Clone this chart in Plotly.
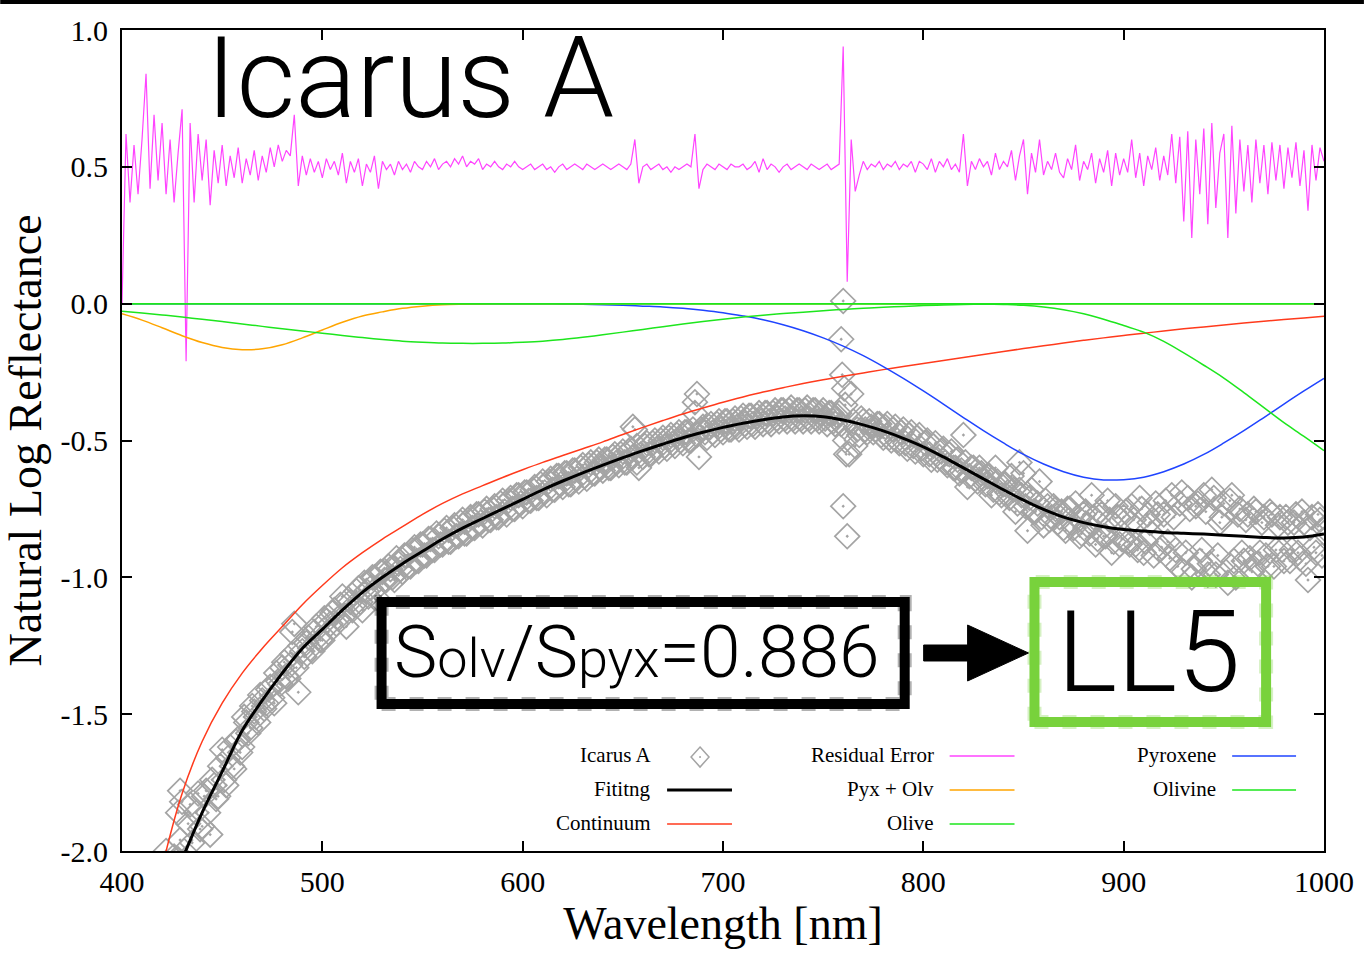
import plotly.graph_objects as go

# ---------------- data ----------------
wl10 = [400, 410, 420, 430, 440, 450, 460, 470, 480, 490,
        500, 510, 520, 530, 540, 550, 560, 570, 580, 590,
        600, 610, 620, 630, 640, 650, 660, 670, 680, 690,
        700, 710, 720, 730, 740, 750, 760, 770, 780, 790,
        800, 810, 820, 830, 840, 850, 860, 870, 880, 890,
        900, 910, 920, 930, 940, 950, 960, 970, 980, 990, 1000]

fitting = [-2.65, -2.40, -2.19, -2.03, -1.86, -1.71, -1.56, -1.45, -1.35, -1.26,
           -1.19, -1.12, -1.055, -1.00, -0.95, -0.905, -0.86, -0.82, -0.785, -0.75,
           -0.715, -0.68, -0.648, -0.618, -0.59, -0.563, -0.537, -0.513, -0.49, -0.47,
           -0.452, -0.437, -0.424, -0.414, -0.41, -0.413, -0.425, -0.443, -0.465, -0.492,
           -0.523, -0.56, -0.60, -0.64, -0.68, -0.718, -0.752, -0.78, -0.80, -0.815,
           -0.825, -0.831, -0.836, -0.839, -0.842, -0.846, -0.85, -0.854, -0.856, -0.853, -0.842]

continuum = [-2.80, -2.40, -2.06, -1.79, -1.60, -1.46, -1.35, -1.26, -1.18, -1.10,
             -1.03, -0.965, -0.91, -0.86, -0.815, -0.77, -0.73, -0.695, -0.665, -0.635,
             -0.607, -0.58, -0.555, -0.53, -0.505, -0.478, -0.452, -0.427, -0.403, -0.381,
             -0.36, -0.341, -0.323, -0.307, -0.292, -0.278, -0.265, -0.253, -0.241, -0.23,
             -0.219, -0.208, -0.197, -0.186, -0.175, -0.164, -0.154, -0.144, -0.134, -0.125,
             -0.116, -0.108, -0.10, -0.092, -0.085, -0.078, -0.071, -0.064, -0.058, -0.052, -0.046]

pyroxene = [0.0, 0.0, 0.0, 0.0, 0.0, 0.0, 0.0, 0.0, 0.0, 0.0,
            0.0, 0.0, 0.0, 0.0, 0.0, 0.0, 0.0, 0.0, 0.0, 0.0,
            0.0, 0.0, -0.001, -0.002, -0.004, -0.006, -0.009, -0.012, -0.017, -0.024,
            -0.033, -0.045, -0.059, -0.077, -0.099, -0.125, -0.155, -0.19, -0.23, -0.273,
            -0.319, -0.367, -0.416, -0.464, -0.509, -0.551, -0.586, -0.614, -0.634, -0.644,
            -0.643, -0.634, -0.614, -0.586, -0.551, -0.509, -0.464, -0.416, -0.367, -0.319, -0.273]

pyx_olv = [-0.037, -0.06, -0.088, -0.117, -0.142, -0.16, -0.168, -0.165, -0.15, -0.125,
           -0.096, -0.068, -0.045, -0.03, -0.017, -0.009, -0.004, -0.002, -0.001, 0.0,
           0.0, 0.0, 0.0, 0.0, 0.0, 0.0, 0.0, 0.0, 0.0, 0.0,
           0.0, 0.0, 0.0, 0.0, 0.0, 0.0, 0.0, 0.0, 0.0, 0.0,
           0.0, 0.0, 0.0, 0.0, 0.0, 0.0, 0.0, 0.0, 0.0, 0.0,
           0.0, 0.0, 0.0, 0.0, 0.0, 0.0, 0.0, 0.0, 0.0, 0.0, 0.0]

olive = [-0.028, -0.034, -0.041, -0.049, -0.057, -0.065, -0.074, -0.083, -0.092, -0.10,
         -0.108, -0.116, -0.124, -0.131, -0.137, -0.141, -0.144, -0.145, -0.145, -0.144,
         -0.141, -0.137, -0.131, -0.123, -0.114, -0.104, -0.094, -0.084, -0.074, -0.065,
         -0.057, -0.049, -0.042, -0.036, -0.031, -0.026, -0.021, -0.017, -0.013, -0.01,
         -0.007, -0.005, -0.003, -0.002, -0.001, 0.0, 0.0, 0.0, 0.0, 0.0,
         0.0, 0.0, 0.0, 0.0, 0.0, 0.0, 0.0, 0.0, 0.0, 0.0, 0.0]

olivine = [0.0, 0.0, 0.0, 0.0, 0.0, 0.0, 0.0, 0.0, 0.0, 0.0,
           0.0, 0.0, 0.0, 0.0, 0.0, 0.0, 0.0, 0.0, 0.0, 0.0,
           0.0, 0.0, 0.0, 0.0, 0.0, 0.0, 0.0, 0.0, 0.0, 0.0,
           0.0, 0.0, 0.0, 0.0, 0.0, 0.0, 0.0, 0.0, 0.0, 0.0,
           0.0, 0.0, 0.0, -0.001, -0.003, -0.006, -0.012, -0.022, -0.037, -0.057,
           -0.08, -0.104, -0.138, -0.18, -0.225, -0.272, -0.325, -0.38, -0.435, -0.485, -0.537]

baseline_wl = [400, 1000]
baseline = [0.0, 0.0]

wl_even = list(range(400, 1001, 2))
wl_odd = list(range(401, 1000, 2))

residual = [
    0.00, 0.62, 0.37, 0.58, 0.40, 0.60, 0.84, 0.42, 0.69, 0.45,
    0.66, 0.40, 0.60, 0.37, 0.55, 0.71, -0.21, 0.66, 0.37, 0.62,
    0.45, 0.60, 0.36, 0.56, 0.44, 0.58, 0.43, 0.54, 0.46, 0.57,
    0.44, 0.53, 0.47, 0.56, 0.45, 0.54, 0.48, 0.57, 0.50, 0.58,
    0.52, 0.56, 0.54, 0.69, 0.43, 0.54, 0.47, 0.53, 0.48, 0.52,
    0.46, 0.53, 0.49, 0.52, 0.47, 0.55, 0.44, 0.52, 0.48, 0.53,
    0.43, 0.51, 0.48, 0.54, 0.42, 0.52, 0.49, 0.51, 0.47, 0.52,
    0.49, 0.51, 0.48, 0.52, 0.50, 0.49, 0.52, 0.50, 0.53, 0.49,
    0.51, 0.52, 0.50, 0.53, 0.51, 0.54, 0.50, 0.52, 0.51, 0.53,
    0.49, 0.51, 0.50, 0.52, 0.50, 0.49, 0.51, 0.50, 0.52, 0.50,
    0.49, 0.50, 0.51, 0.49, 0.50, 0.51, 0.49, 0.50, 0.48, 0.50,
    0.51, 0.49, 0.50, 0.51, 0.50, 0.49, 0.51, 0.50, 0.49, 0.50,
    0.51, 0.50, 0.49, 0.50, 0.51, 0.50, 0.49, 0.51, 0.60, 0.44,
    0.50, 0.51, 0.49, 0.50, 0.51, 0.49, 0.50, 0.48, 0.50, 0.49,
    0.50, 0.51, 0.50, 0.62, 0.42, 0.49, 0.51, 0.50, 0.49, 0.51,
    0.50, 0.49, 0.51, 0.50, 0.50, 0.51, 0.49, 0.50, 0.52, 0.48,
    0.53, 0.49, 0.51, 0.50, 0.48, 0.50, 0.51, 0.49, 0.50, 0.51,
    0.50, 0.49, 0.51, 0.50, 0.49, 0.50, 0.51, 0.49, 0.50, 0.51,
    0.94, 0.08, 0.60, 0.41, 0.47, 0.52, 0.49, 0.51, 0.50, 0.52,
    0.49, 0.51, 0.50, 0.52, 0.49, 0.51, 0.50, 0.52, 0.48, 0.52,
    0.51, 0.49, 0.53, 0.48, 0.52, 0.50, 0.53, 0.49, 0.51, 0.48,
    0.62, 0.43, 0.52, 0.49, 0.53, 0.50, 0.52, 0.47, 0.55, 0.49,
    0.52, 0.50, 0.56, 0.45, 0.54, 0.60, 0.40, 0.55, 0.48, 0.60,
    0.47, 0.52, 0.49, 0.55, 0.48, 0.46, 0.53, 0.49, 0.58, 0.45,
    0.52, 0.49, 0.55, 0.44, 0.53, 0.48, 0.56, 0.43, 0.55, 0.47,
    0.53, 0.48, 0.60, 0.46, 0.55, 0.43, 0.54, 0.49, 0.57, 0.45,
    0.54, 0.47, 0.62, 0.44, 0.61, 0.30, 0.63, 0.24, 0.60, 0.40,
    0.64, 0.29, 0.66, 0.35, 0.55, 0.62, 0.24, 0.65, 0.33, 0.60,
    0.41, 0.58, 0.37, 0.60, 0.44, 0.58, 0.40, 0.59, 0.45, 0.58,
    0.42, 0.57, 0.46, 0.59, 0.43, 0.56, 0.34, 0.58, 0.45, 0.57,
    0.52]

# Icarus A measurements at even wavelengths (400, 402, ..., 1000)
icarus_even = [
    -2.60, -2.55, -2.52, -2.45, -2.44, -2.36, -2.33, -2.28, -2.27, -2.20,
    -2.15, -2.00, -2.10, -2.02, -2.03, -1.82, -2.70, -1.83, -2.06, -1.79,
    -1.91, -1.78, -1.94, -1.76, -1.80, -1.63, -1.76, -1.62, -1.70, -1.59,
    -1.62, -1.53, -1.55, -1.49, -1.53, -1.45, -1.46, -1.40, -1.46, -1.38,
    -1.33, -1.36, -1.32, -1.17, -1.42, -1.27, -1.24, -1.26, -1.20, -1.22,
    -1.23, -1.16, -1.17, -1.12, -1.15, -1.07, -1.18, -1.09, -1.10, -1.04,
    -1.12, -1.05, -1.04, -1.00, -1.08, -0.98, -1.01, -0.97, -1.01, -0.95,
    -0.98, -0.92, -0.96, -0.89, -0.94, -0.88, -0.92, -0.86, -0.90, -0.85,
    -0.88, -0.82, -0.87, -0.81, -0.85, -0.79, -0.84, -0.78, -0.82, -0.77,
    -0.81, -0.75, -0.79, -0.74, -0.78, -0.72, -0.77, -0.71, -0.75, -0.70,
    -0.74, -0.69, -0.72, -0.67, -0.71, -0.65, -0.70, -0.64, -0.68, -0.63,
    -0.67, -0.62, -0.66, -0.61, -0.65, -0.59, -0.64, -0.58, -0.62, -0.57,
    -0.61, -0.57, -0.60, -0.55, -0.59, -0.54, -0.58, -0.53, -0.46, -0.60,
    -0.56, -0.51, -0.55, -0.50, -0.54, -0.49, -0.53, -0.48, -0.52, -0.47,
    -0.51, -0.47, -0.50, -0.36, -0.56, -0.45, -0.49, -0.44, -0.48, -0.43,
    -0.47, -0.43, -0.46, -0.42, -0.46, -0.41, -0.45, -0.41, -0.45, -0.40,
    -0.44, -0.40, -0.44, -0.39, -0.43, -0.39, -0.43, -0.38, -0.43, -0.39,
    -0.43, -0.38, -0.43, -0.39, -0.43, -0.39, -0.44, -0.40, -0.44, -0.40,
    0.01, -0.85, -0.33, -0.52, -0.48, -0.43, -0.47, -0.45, -0.46, -0.44,
    -0.49, -0.44, -0.50, -0.45, -0.51, -0.46, -0.53, -0.47, -0.54, -0.48,
    -0.55, -0.50, -0.57, -0.51, -0.56, -0.53, -0.59, -0.54, -0.60, -0.62,
    -0.48, -0.67, -0.60, -0.64, -0.60, -0.64, -0.63, -0.70, -0.60, -0.69,
    -0.66, -0.69, -0.63, -0.76, -0.68, -0.62, -0.83, -0.68, -0.76, -0.65,
    -0.81, -0.74, -0.78, -0.75, -0.78, -0.82, -0.75, -0.80, -0.73, -0.85,
    -0.77, -0.81, -0.70, -0.88, -0.76, -0.85, -0.72, -0.91, -0.74, -0.88,
    -0.78, -0.87, -0.74, -0.88, -0.71, -0.91, -0.77, -0.84, -0.73, -0.90,
    -0.77, -0.87, -0.70, -0.90, -0.73, -0.98, -0.71, -1.00, -0.74, -0.94,
    -0.70, -0.99, -0.68, -0.99, -0.80, -0.73, -1.02, -0.70, -1.00, -0.75,
    -0.94, -0.77, -0.98, -0.76, -0.91, -0.78, -0.96, -0.77, -0.90, -0.78,
    -0.94, -0.80, -0.90, -0.77, -0.93, -0.80, -1.01, -0.78, -0.91, -0.79,
    -0.82]

# Icarus A measurements at odd wavelengths (401, 403, ..., 999)
icarus_odd = [
    -2.62, -2.50, -2.49, -2.40, -2.41, -2.30, -2.31, -2.22, -2.24, -2.16,
    -2.12, -2.15, -2.05, -2.08, -1.96, -2.00, -1.90, -1.97, -1.86, -1.92,
    -1.80, -1.86, -1.74, -1.81, -1.69, -1.74, -1.66, -1.69, -1.60, -1.64,
    -1.51, -1.57, -1.47, -1.51, -1.43, -1.48, -1.41, -1.44, -1.35, -1.39,
    -1.31, -1.37, -1.28, -1.33, -1.25, -1.29, -1.22, -1.27, -1.18, -1.23,
    -1.15, -1.20, -1.13, -1.17, -1.10, -1.14, -1.08, -1.12, -1.05, -1.09,
    -1.02, -1.07, -1.00, -1.04, -0.98, -1.01, -0.96, -1.00, -0.93, -0.97,
    -0.92, -0.96, -0.90, -0.94, -0.88, -0.92, -0.86, -0.90, -0.84, -0.88,
    -0.83, -0.87, -0.82, -0.85, -0.80, -0.84, -0.79, -0.82, -0.77, -0.80,
    -0.76, -0.79, -0.75, -0.78, -0.73, -0.76, -0.72, -0.75, -0.70, -0.73,
    -0.69, -0.72, -0.68, -0.71, -0.66, -0.69, -0.65, -0.68, -0.63, -0.66,
    -0.62, -0.66, -0.61, -0.64, -0.60, -0.63, -0.59, -0.62, -0.58, -0.60,
    -0.57, -0.60, -0.56, -0.58, -0.55, -0.58, -0.54, -0.56, -0.52, -0.55,
    -0.52, -0.55, -0.51, -0.53, -0.50, -0.52, -0.49, -0.51, -0.48, -0.50,
    -0.47, -0.50, -0.46, -0.48, -0.46, -0.47, -0.45, -0.47, -0.44, -0.46,
    -0.43, -0.46, -0.43, -0.45, -0.42, -0.44, -0.41, -0.44, -0.41, -0.43,
    -0.40, -0.43, -0.40, -0.42, -0.39, -0.42, -0.39, -0.42, -0.39, -0.42,
    -0.39, -0.42, -0.39, -0.42, -0.40, -0.42, -0.40, -0.43, -0.41, -0.44,
    -0.50, -0.55, -0.43, -0.46, -0.42, -0.46, -0.43, -0.47, -0.44, -0.48,
    -0.45, -0.49, -0.46, -0.50, -0.47, -0.51, -0.48, -0.52, -0.49, -0.53,
    -0.51, -0.55, -0.52, -0.57, -0.54, -0.58, -0.55, -0.60, -0.57, -0.61,
    -0.58, -0.63, -0.60, -0.65, -0.62, -0.66, -0.63, -0.68, -0.65, -0.70,
    -0.66, -0.71, -0.68, -0.73, -0.70, -0.74, -0.71, -0.76, -0.73, -0.78,
    -0.72, -0.79, -0.74, -0.80, -0.76, -0.83, -0.75, -0.82, -0.78, -0.84,
    -0.76, -0.84, -0.78, -0.86, -0.77, -0.85, -0.79, -0.87, -0.78, -0.86,
    -0.76, -0.88, -0.79, -0.90, -0.75, -0.87, -0.80, -0.92, -0.77, -0.89,
    -0.72, -0.93, -0.78, -0.96, -0.69, -0.91, -0.75, -0.97, -0.73, -0.90,
    -0.76, -0.95, -0.71, -0.92, -0.78, -0.98, -0.72, -0.94, -0.77, -0.91,
    -0.79, -0.93, -0.75, -0.95, -0.80, -0.92, -0.76, -0.96, -0.81, -0.90,
    -0.78, -0.94, -0.80, -0.91, -0.76, -0.95, -0.82, -0.89, -0.77, -0.92]

extra_wl = [759.0, 759.5, 760.5, 761.0, 761.5, 760.0, 760.5, 687.0, 686.0, 655.0, 657.0, 485.0, 429.0, 428.0, 848.0]
extra_val = [-0.13, -0.26, -0.31, -0.37, -0.55, -0.74, -0.45, -0.33, -0.40, -0.45, -0.58, -1.20, -1.78, -1.86, -0.58]

x_ticks = [400, 500, 600, 700, 800, 900, 1000]
y_ticks = [-2.0, -1.5, -1.0, -0.5, 0.0, 0.5, 1.0]
y_tick_text = ["-2.0", "-1.5", "-1.0", "-0.5", "0.0", "0.5", "1.0"]

# ---------------- styling ----------------
C_DATA = "#a4a4a4"
C_FIT = "#000000"
C_CONT = "#ff3a1c"
C_RESID = "#ff44ff"
C_PXO = "#ffa500"
C_GREEN = "#1de61d"
C_BLUE = "#1f44ff"
C_LL5 = "#78d23c"

SERIF = "Liberation Serif, Times New Roman, serif"
SANS = "Roboto, Liberation Sans, Arial, sans-serif"

W, H = 1366, 958
L, R, T, B = 122, 1326, 30, 851


def px(x):
    return (x - L) / (R - L)


def py(y):
    return (B - y) / (B - T)


fig = go.Figure()

marker_style = dict(symbol="diamond-open-dot", size=19, color=C_DATA,
                    line=dict(width=1.7, color=C_DATA))
fig.add_trace(go.Scatter(x=wl_even, y=icarus_even, mode="markers", name="Icarus A", marker=marker_style))
fig.add_trace(go.Scatter(x=wl_odd, y=icarus_odd, mode="markers", showlegend=False, marker=marker_style))
fig.add_trace(go.Scatter(x=extra_wl, y=extra_val, mode="markers", showlegend=False, marker=marker_style))
fig.add_trace(go.Scatter(x=wl_even, y=residual, mode="lines", name="Residual Error",
                         line=dict(color=C_RESID, width=1.2)))
fig.add_trace(go.Scatter(x=wl10, y=continuum, mode="lines", name="Continuum",
                         line=dict(color=C_CONT, width=1.5, shape="spline")))
fig.add_trace(go.Scatter(x=wl10, y=pyroxene, mode="lines", name="Pyroxene",
                         line=dict(color=C_BLUE, width=1.5, shape="spline")))
fig.add_trace(go.Scatter(x=wl10, y=pyx_olv, mode="lines", name="Pyx + Olv",
                         line=dict(color=C_PXO, width=1.5, shape="spline")))
fig.add_trace(go.Scatter(x=wl10, y=olive, mode="lines", name="Olive",
                         line=dict(color=C_GREEN, width=1.5, shape="spline")))
fig.add_trace(go.Scatter(x=wl10, y=olivine, mode="lines", name="Olivine",
                         line=dict(color=C_GREEN, width=1.5, shape="spline")))
fig.add_trace(go.Scatter(x=baseline_wl, y=baseline, mode="lines", showlegend=False,
                         line=dict(color=C_GREEN, width=1.5)))
fig.add_trace(go.Scatter(x=wl10, y=fitting, mode="lines", name="Fititng",
                         line=dict(color=C_FIT, width=3, shape="spline")))

shapes = []
annotations = []

# black bar across the very top
shapes.append(dict(type="rect", xref="paper", yref="paper", x0=px(0), x1=px(W),
                   y0=py(4), y1=py(0), fillcolor="black", line=dict(width=0), layer="above"))


def rough_box(x0, y0, x1, y1, color):
    shapes.append(dict(type="rect", xref="paper", yref="paper", x0=px(x0), x1=px(x1),
                       y0=py(y1), y1=py(y0), line=dict(color=color, width=10),
                       fillcolor="rgba(0,0,0,0)", layer="above"))
    shapes.append(dict(type="rect", xref="paper", yref="paper", x0=px(x0), x1=px(x1),
                       y0=py(y1), y1=py(y0), line=dict(color=color, width=14, dash="dot"),
                       fillcolor="rgba(0,0,0,0)", opacity=0.3, layer="above"))


rough_box(382, 602, 906, 704, "black")
rough_box(1036, 582, 1268, 722, C_LL5)

# arrow
arrow_pts = [(925, 645), (969, 645), (969, 625), (1030, 653), (969, 681), (969, 661), (925, 661)]
path = "M " + " L ".join(f"{px(a):.5f},{py(b):.5f}" for a, b in arrow_pts) + " Z"
shapes.append(dict(type="path", xref="paper", yref="paper", path=path,
                   fillcolor="black", line=dict(color="black", width=1), layer="above"))

# main annotations
annotations.append(dict(xref="paper", yref="paper", x=px(204), y=py(78), xanchor="left",
                        yanchor="middle", showarrow=False, text="Icarus A",
                        font=dict(family=SANS, size=114, color="black", weight=300)))
annotations.append(dict(xref="paper", yref="paper", x=px(637), y=py(652), xanchor="center",
                        yanchor="middle", showarrow=False,
                        text="S<span style='font-size:54px'>olv</span>/S<span style='font-size:54px'>pyx</span>=0.886",
                        font=dict(family=SANS, size=73, color="black", weight=300)))
annotations.append(dict(xref="paper", yref="paper", x=px(1150), y=py(652), xanchor="center",
                        yanchor="middle", showarrow=False, text="LL5",
                        font=dict(family=SANS, size=114, color="black", weight=300)))

# custom legend (text then sample on the right)
legend_rows = [
    ("Icarus A", 654, 755, "diamond", C_DATA, 668, 733, 1.5),
    ("Fititng", 654, 789, "line", C_FIT, 668, 733, 3),
    ("Continuum", 654, 823, "line", C_CONT, 668, 733, 1.5),
    ("Residual Error", 937, 755, "line", C_RESID, 951, 1016, 1.5),
    ("Pyx + Olv", 937, 789, "line", C_PXO, 951, 1016, 1.5),
    ("Olive", 937, 823, "line", C_GREEN, 951, 1016, 1.5),
    ("Pyroxene", 1220, 755, "line", C_BLUE, 1234, 1298, 1.5),
    ("Olivine", 1220, 789, "line", C_GREEN, 1234, 1298, 1.5),
]
for text, tx, ty, kind, col, lx0, lx1, lw in legend_rows:
    annotations.append(dict(xref="paper", yref="paper", x=px(tx), y=py(ty), xanchor="right",
                            yanchor="middle", showarrow=False, text=text,
                            font=dict(family=SERIF, size=21, color="black")))
    if kind == "line":
        shapes.append(dict(type="line", xref="paper", yref="paper", x0=px(lx0), x1=px(lx1),
                           y0=py(ty + 1), y1=py(ty + 1), line=dict(color=col, width=lw)))
    else:
        cx, cy = 701, ty + 2
        dpath = (f"M {px(cx):.5f},{py(cy - 10):.5f} L {px(cx + 9):.5f},{py(cy):.5f} "
                 f"L {px(cx):.5f},{py(cy + 10):.5f} L {px(cx - 9):.5f},{py(cy):.5f} Z")
        shapes.append(dict(type="path", xref="paper", yref="paper", path=dpath,
                           line=dict(color=col, width=1.5)))
        shapes.append(dict(type="circle", xref="paper", yref="paper", x0=px(cx - 1), x1=px(cx + 1),
                           y0=py(cy + 1), y1=py(cy - 1), fillcolor=col, line=dict(width=0)))

axis_common = dict(showgrid=False, zeroline=False, showline=True, linecolor="black",
                   linewidth=2, mirror="allticks", ticks="inside", ticklen=10,
                   tickwidth=1.5, tickcolor="black",
                   tickfont=dict(family=SERIF, size=30, color="black"))

fig.update_layout(
    width=W, height=H,
    margin=dict(l=L, r=W - R, t=T, b=H - B),
    paper_bgcolor="white", plot_bgcolor="white",
    showlegend=False,
    shapes=shapes, annotations=annotations,
    xaxis=dict(range=[400, 1000], tickvals=x_ticks, ticktext=[str(v) for v in x_ticks],
               title=dict(text="Wavelength [nm]", font=dict(family=SERIF, size=46, color="black"),
                          standoff=8),
               ticklabelstandoff=3, **axis_common),
    yaxis=dict(range=[-2.0, 1.0], tickvals=y_ticks, ticktext=y_tick_text,
               title=dict(text="Natural Log Reflectance", font=dict(family=SERIF, size=46, color="black"),
                          standoff=15),
               ticklabelstandoff=6, **axis_common),
)

fig.write_html("out.html", config={"displayModeBar": False},
               post_script="document.body.style.margin='0';document.body.style.overflow='hidden';")
